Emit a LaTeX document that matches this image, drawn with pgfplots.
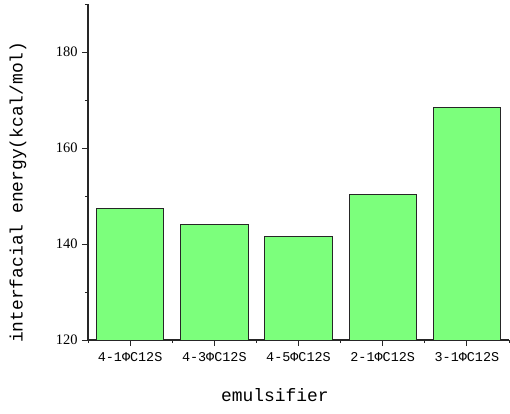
\documentclass[border=0pt]{standalone}
\usepackage{fontspec}
\setmainfont{Liberation Serif}
\newfontfamily\labfont{Liberation Mono}
\usepackage{pgfplots}
\pgfplotsset{compat=1.18}
\definecolor{barfill}{RGB}{124,255,124}

\begin{document}
\begin{tikzpicture}
\begin{axis}[
    scale only axis,
    width=421bp, height=336bp,
    xmin=-0.5, xmax=4.5,
    ymin=120, ymax=190,
    axis lines=left,
    axis line style={-, line width=1.2pt, black!85},
    xtick=data,
    xticklabels={4-1ΦC12S,4-3ΦC12S,4-5ΦC12S,2-1ΦC12S,3-1ΦC12S},
    minor xtick={-0.5,0.5,1.5,2.5,3.5,4.5},
    ytick={120,140,160,180},
    minor ytick={130,150,170,190},
    tick align=outside,
    major tick length=6bp,
    minor tick length=3bp,
    every tick/.style={black!85, line width=1pt},
    /pgf/number format/assume math mode=true,
    yticklabel style={font=\fontsize{14.5}{14.5}\selectfont, xshift=-1bp},
    xticklabel style={font=\labfont\fontsize{13.5}{14}\selectfont, yshift=-3bp},
    xlabel={emulsifier},
    ylabel={interfacial energy(kcal/mol)},
    xlabel style={font=\labfont\fontsize{18}{18}\selectfont, at={(axis description cs:0.444,-0.164)}, anchor=center},
    ylabel style={font=\labfont\fontsize{18}{18}\selectfont, at={(axis description cs:-0.166,0.44)}, anchor=center},
    clip=false,
]
\addplot[ybar, bar width=0.8, fill=barfill, draw=black!85, line width=0.8pt] coordinates {
    (0,147.4)
    (1,144.1)
    (2,141.5)
    (3,150.3)
    (4,168.5)
};
\end{axis}
\pgfresetboundingbox
\path[use as bounding box] (current axis.south west) ++(-88bp,-74bp) rectangle ++(510bp,414bp);
\end{tikzpicture}
\end{document}
